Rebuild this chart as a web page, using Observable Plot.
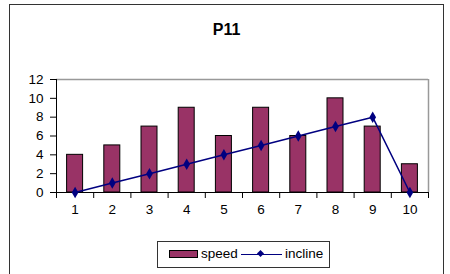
<!DOCTYPE html>
<html>
<head>
<meta charset="utf-8">
<script src="https://cdn.jsdelivr.net/npm/d3@7"></script>
<script src="https://cdn.jsdelivr.net/npm/@observablehq/plot@0.6"></script>
<style>
  html, body { margin: 0; padding: 0; background: #fff; }
  body { width: 450px; height: 274px; position: relative; overflow: hidden; font-family: "Liberation Sans", Arial, sans-serif; }
  #frame { position: absolute; left: 9px; top: 4px; width: 435px; height: 290px; border: 1px solid #333; box-sizing: border-box; }
  #title { position: absolute; left: 9px; width: 435px; top: 22px; text-align: center; font-weight: bold; font-size: 16px; line-height: 16px; color: #000; }
  #chart { position: absolute; left: 0; top: 0; }
  #legend { position: absolute; left: 157px; top: 241px; width: 173px; height: 27px; border: 1px solid #333; box-sizing: border-box; font-size: 13.5px; color: #000; }
  .sw-bar { position: absolute; left: 11px; top: 8px; width: 29px; height: 8px; background: #993366; border: 1px solid #000; box-sizing: border-box; }
  .lbl { position: absolute; top: 4px; line-height: 16px; }
  .sw-line { position: absolute; left: 83px; top: 12px; width: 41px; height: 0; border-top: 1.5px solid #000080; }
  .sw-dia { position: absolute; left: 100px; top: 9px; width: 5px; height: 5px; background: #000080; transform: rotate(45deg); }
</style>
</head>
<body>
<div id="frame"></div>
<div id="title">P11</div>
<div id="chart"></div>
<div id="legend">
  <div class="sw-bar"></div><div class="lbl" style="left:43px">speed</div>
  <div class="sw-line"></div><div class="sw-dia"></div><div class="lbl" style="left:127px">incline</div>
</div>
<script>
const categories = [1, 2, 3, 4, 5, 6, 7, 8, 9, 10];
const speed = [4, 5, 7, 9, 6, 9, 6, 10, 7, 3];
const incline = [0, 1, 2, 3, 4, 5, 6, 7, 8, 0];
const yTicks = [0, 2, 4, 6, 8, 10, 12];

const data = categories.map((c, i) => ({cat: c, speed: speed[i], incline: incline[i]}));
const half = 0.215; // half bar width in category units
const boundaries = categories.map(c => c - 0.5).concat([categories[categories.length - 1] + 0.5]);
const xDomain = [boundaries[0], boundaries[boundaries.length - 1]];

const chart = Plot.plot({
  width: 450,
  height: 230,
  marginLeft: 56,
  marginRight: 22,
  marginTop: 79,
  marginBottom: 38,
  style: {fontFamily: "'Liberation Sans', Arial, sans-serif", fontSize: "13.5px", color: "#000", background: "transparent", overflow: "visible"},
  x: {domain: xDomain, axis: null, label: null},
  y: {domain: [0, 12], axis: null, label: null},
  marks: [
    Plot.ruleY([12], {stroke: "#999", strokeWidth: 1.5}),
    Plot.ruleX([xDomain[1]], {stroke: "#999", strokeWidth: 1.5}),
    Plot.rectY(data, {x1: d => d.cat - half, x2: d => d.cat + half, y: "speed", fill: "#993366", stroke: "#000", strokeWidth: 1}),
    Plot.ruleX([xDomain[0]], {stroke: "#000"}),
    Plot.ruleY([0], {stroke: "#000"}),
    Plot.axisY({ticks: yTicks, tickSize: 6, tickPadding: 7, fontSize: 13.5, stroke: "#000", label: null}),
    Plot.axisX({ticks: boundaries, tickSize: 6, tickFormat: () => "", stroke: "#000", label: null}),
    Plot.axisX({ticks: categories, tickSize: 0, tickPadding: 12, fontSize: 13.5, label: null}),
    Plot.line(data, {x: "cat", y: "incline", stroke: "#000080", strokeWidth: 1.5}),
    Plot.dot(data, {x: "cat", y: "incline", symbol: "diamond", r: 3.5, fill: "#000080", stroke: "none"})
  ]
});
document.getElementById("chart").appendChild(chart);
</script>
</body>
</html>
